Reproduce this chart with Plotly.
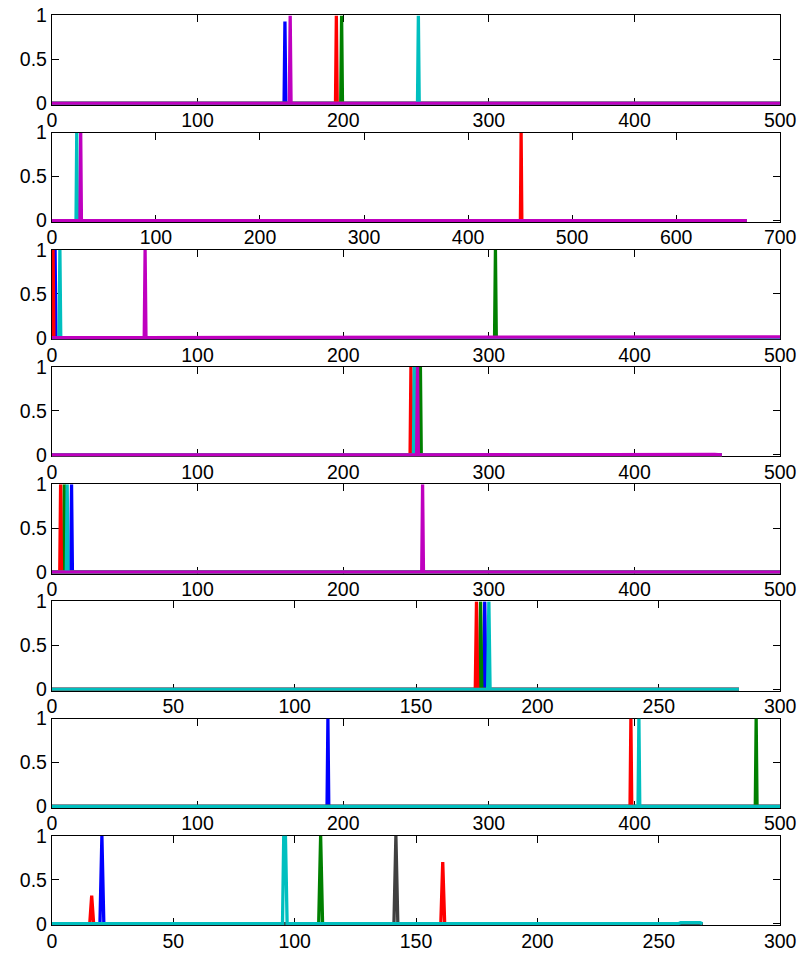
import plotly.graph_objects as go

# ---------------- data ----------------
# Panel 1 (x 0..500)
p1_blue_x = [0, 159.4, 160.0, 160.6, 500]
p1_blue_y = [0, 0, 0.93, 0, 0]
p1_green_x = [0, 198.3, 198.9, 199.5, 500]
p1_green_y = [0, 0, 1, 0, 0]
p1_red_x = [0, 194.7, 195.3, 195.9, 500]
p1_red_y = [0, 0, 1, 0, 0]
p1_cyan_x = [0, 251.0, 251.6, 252.2, 500]
p1_cyan_y = [0, 0, 1, 0, 0]
p1_mag_x = [0, 163.0, 163.6, 164.2, 500]
p1_mag_y = [0, 0, 1, 0, 0]

# Panel 2 (x 0..700, data to ~668)
p2_red_x = [0, 450.3, 451.0, 451.7, 668]
p2_red_y = [0, 0, 1, 0, 0]
p2_cyan_x = [0, 23.2, 23.9, 24.6, 668]
p2_cyan_y = [0, 0, 1, 0, 0]
p2_mag_x = [0, 27.0, 27.7, 28.4, 668]
p2_mag_y = [0, 0, 1, 0, 0]

# Panel 3 (x 0..500)
p3_blue_x = [0, 1.6, 2.2, 2.8, 500]
p3_blue_y = [0, 0, 1, 0, 0]
p3_green_x = [0, 303.9, 304.5, 305.1, 500]
p3_green_y = [0, 0, 1, 0, 0]
p3_red_x = [0, 0.8, 1.4, 500]
p3_red_y = [0, 1, 0, 0]
p3_cyan_x = [0, 4.9, 5.5, 6.1, 500]
p3_cyan_y = [0, 0, 1, 0, 0]
p3_mag_x = [0, 63.4, 64.0, 64.6, 150, 250, 350, 450, 499, 500]
p3_mag_y = [0, 0, 1, 0, 0.005, 0.004, 0.006, 0.004, 0.008, 0.01]

# Panel 4 (x 0..500, data to ~460)
p4_green_x = [0, 252.4, 253.0, 253.6, 460]
p4_green_y = [0, 0, 1, 0, 0]
p4_red_x = [0, 245.9, 246.5, 247.1, 460]
p4_red_y = [0, 0, 1, 0, 0]
p4_cyan_x = [0, 248.2, 248.8, 249.4, 460]
p4_cyan_y = [0, 0, 1, 0, 0]
p4_mag_x = [0, 250.4, 251.0, 251.6, 455, 460]
p4_mag_y = [0, 0, 1, 0, 0.006, 0]

# Panel 5 (x 0..500)
p5_blue_x = [0, 12.9, 13.5, 14.1, 500]
p5_blue_y = [0, 0, 1, 0, 0]
p5_green_x = [0, 7.9, 8.5, 9.1, 500]
p5_green_y = [0, 0, 1, 0, 0]
p5_red_x = [0, 5.4, 6.0, 6.6, 500]
p5_red_y = [0, 0, 1, 0, 0]
p5_cyan_x = [0, 9.9, 10.5, 11.1, 500]
p5_cyan_y = [0, 0, 1, 0, 0]
p5_mag_x = [0, 253.9, 254.5, 255.1, 500]
p5_mag_y = [0, 0, 1, 0, 0]

# Panel 6 (x 0..300, data to ~283)
p6_blue_x = [0, 177.8, 178.3, 178.8, 283]
p6_blue_y = [0, 0, 1, 0, 0]
p6_green_x = [0, 176.1, 176.6, 177.1, 283]
p6_green_y = [0, 0, 1, 0, 0]
p6_red_x = [0, 174.4, 174.9, 175.4, 283]
p6_red_y = [0, 0, 1, 0, 0]
p6_cyan_x = [0, 179.5, 180.0, 180.5, 283]
p6_cyan_y = [0, 0, 1, 0, 0]

# Panel 7 (x 0..500)
p7_blue_x = [0, 188.9, 189.5, 190.1, 500]
p7_blue_y = [0, 0, 1, 0, 0]
p7_green_x = [0, 482.9, 483.5, 484.1, 500]
p7_green_y = [0, 0, 1, 0, 0]
p7_red_x = [0, 396.9, 397.5, 398.1, 500]
p7_red_y = [0, 0, 1, 0, 0]
p7_cyan_x = [0, 402.4, 403.0, 403.6, 500]
p7_cyan_y = [0, 0, 1, 0, 0]

# Panel 8 (x 0..300, data to ~268)
p8_blue_x = [0, 19.8, 20.6, 21.4, 268]
p8_blue_y = [0, 0, 1, 0, 0]
p8_green_x = [0, 109.9, 110.7, 111.5, 268]
p8_green_y = [0, 0, 1, 0, 0]
p8_red_x = [0, 15.6, 16.4, 17.2, 160.2, 161.0, 161.8, 268]
p8_red_y = [0, 0, 0.32, 0, 0, 0.70, 0, 0]
p8_gray_x = [0, 140.9, 141.7, 142.5, 268]
p8_gray_y = [0, 0, 1, 0, 0]
p8_cyan_x = [0, 95.0, 95.5, 96.2, 96.9, 258, 259, 267, 268]
p8_cyan_y = [0, 0, 1, 1, 0, 0, 0.012, 0.012, 0]

panel_xmax = [500, 700, 500, 500, 500, 300, 500, 300]
panel_dtick = [100, 100, 100, 100, 100, 50, 100, 50]
y_ticks = [0, 0.5, 1]
y_tick_text = ["0", "0.5", "1"]

# ---------------- styles ----------------
BLUE = "rgb(0,0,255)"
GREEN = "rgb(0,128,0)"
RED = "rgb(255,0,0)"
CYAN = "rgb(0,191,191)"
MAG = "rgb(191,0,191)"
GRAY = "rgb(64,64,64)"

panels = [
    [(p1_blue_x, p1_blue_y, BLUE), (p1_green_x, p1_green_y, GREEN), (p1_red_x, p1_red_y, RED),
     (p1_cyan_x, p1_cyan_y, CYAN), (p1_mag_x, p1_mag_y, MAG)],
    [(p2_red_x, p2_red_y, RED), (p2_cyan_x, p2_cyan_y, CYAN), (p2_mag_x, p2_mag_y, MAG)],
    [(p3_blue_x, p3_blue_y, BLUE), (p3_green_x, p3_green_y, GREEN), (p3_red_x, p3_red_y, RED),
     (p3_cyan_x, p3_cyan_y, CYAN), (p3_mag_x, p3_mag_y, MAG)],
    [(p4_green_x, p4_green_y, GREEN), (p4_red_x, p4_red_y, RED),
     (p4_cyan_x, p4_cyan_y, CYAN), (p4_mag_x, p4_mag_y, MAG)],
    [(p5_blue_x, p5_blue_y, BLUE), (p5_green_x, p5_green_y, GREEN), (p5_red_x, p5_red_y, RED),
     (p5_cyan_x, p5_cyan_y, CYAN), (p5_mag_x, p5_mag_y, MAG)],
    [(p6_blue_x, p6_blue_y, BLUE), (p6_green_x, p6_green_y, GREEN), (p6_red_x, p6_red_y, RED),
     (p6_cyan_x, p6_cyan_y, CYAN)],
    [(p7_blue_x, p7_blue_y, BLUE), (p7_green_x, p7_green_y, GREEN), (p7_red_x, p7_red_y, RED),
     (p7_cyan_x, p7_cyan_y, CYAN)],
    [(p8_blue_x, p8_blue_y, BLUE), (p8_green_x, p8_green_y, GREEN), (p8_red_x, p8_red_y, RED),
     (p8_gray_x, p8_gray_y, GRAY), (p8_cyan_x, p8_cyan_y, CYAN)],
]

W, H = 812, 955
# empirical page->figure calibration (page = S * (fig + OFF))
S, OFF = 0.98, 8.0


def fx(px):
    return px / S - OFF


def fy(py):
    return py / S - OFF


LEFT, RIGHT = fx(55), fx(787.7)
TOP0 = fy(12.3)
STEP = 117.3 / S
PH = 88.0 / S
EXT = 1.5  # px below y=0 so the baseline stroke is not clipped
FONT = 19.5

fig = go.Figure()
layout = dict(
    width=W, height=H, margin=dict(l=0, r=0, t=0, b=0),
    paper_bgcolor="white", plot_bgcolor="white", showlegend=False,
    font=dict(family="Liberation Sans, Arial, sans-serif", size=FONT, color="black"),
)

axis_common = dict(
    showline=True, linecolor="black", linewidth=1, mirror="ticks",
    ticks="inside", ticklen=7, tickwidth=1, tickcolor="black",
    showgrid=False, zeroline=False, layer="below traces",
    tickfont=dict(family="Liberation Sans, Arial, sans-serif", size=FONT, color="black"),
)

for i, series in enumerate(panels):
    k = i + 1
    xa = "x" if k == 1 else f"x{k}"
    ya = "y" if k == 1 else f"y{k}"
    for xs, ys, col in series:
        fig.add_trace(go.Scatter(x=xs, y=ys, mode="lines", xaxis=xa, yaxis=ya,
                                 line=dict(color=col, width=3.3), hoverinfo="skip"))
    top = TOP0 + STEP * i
    bot = top + PH + EXT
    xname = "xaxis" if k == 1 else f"xaxis{k}"
    yname = "yaxis" if k == 1 else f"yaxis{k}"
    layout[xname] = dict(axis_common, domain=[LEFT / W, RIGHT / W], anchor=ya,
                         range=[0, panel_xmax[i]], dtick=panel_dtick[i], tick0=0,
                         ticklabelstandoff=-2, ticklabeloverflow="allow")
    layout[yname] = dict(axis_common, domain=[1 - bot / H, 1 - top / H], anchor=xa,
                         range=[-EXT / PH, 1], tickvals=y_ticks, ticktext=y_tick_text,
                         ticklabelstandoff=0, ticklabeloverflow="allow")

fig.update_layout(**layout)
fig.write_html("out.html")
